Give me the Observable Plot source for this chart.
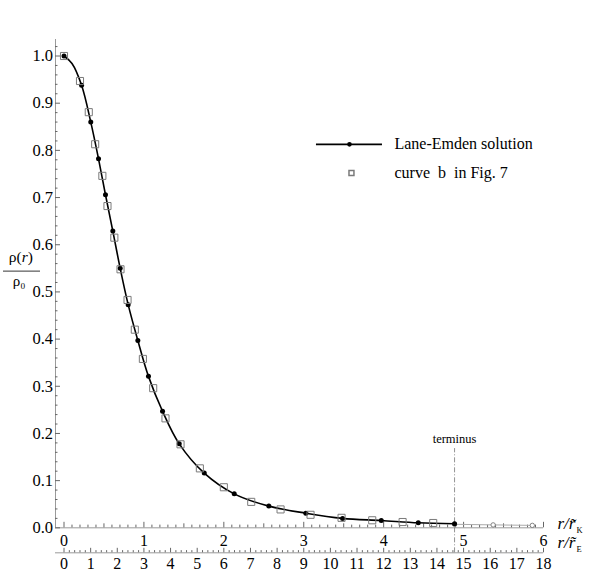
<!DOCTYPE html>
<html><head><meta charset="utf-8">
<script src="https://cdn.jsdelivr.net/npm/d3@7"></script>
<script src="https://cdn.jsdelivr.net/npm/@observablehq/plot@0.6"></script>
<style>body{margin:0;background:#fff} svg text{white-space:pre; font-family:"Liberation Serif", serif}</style>
</head><body><div id="chart"></div>
<script>
// Lane-Emden solution (dots), r in units of r~_K
const leX = [0, 0.22, 0.335, 0.432, 0.519, 0.611, 0.703, 0.803, 0.924, 1.057, 1.233, 1.442, 1.755, 2.13, 2.563, 3.026, 3.486, 3.97, 4.433, 4.887];
const leY = [1.0, 0.938, 0.860, 0.782, 0.706, 0.629, 0.550, 0.473, 0.397, 0.321, 0.247, 0.178, 0.116, 0.072, 0.046, 0.031, 0.020, 0.0155, 0.0106, 0.0085];
const curveX = [0.1];
const curveY = [0.984];
// curve b in Fig. 7 (squares)
const sqX = [0, 0.2, 0.31, 0.39, 0.48, 0.544, 0.63, 0.707, 0.795, 0.886, 0.987, 1.116, 1.27, 1.458, 1.7, 2.0, 2.343, 2.71, 3.085, 3.473, 3.857, 4.237, 4.62];
const sqY = [1.0, 0.947, 0.881, 0.813, 0.746, 0.682, 0.615, 0.548, 0.483, 0.420, 0.358, 0.296, 0.232, 0.177, 0.126, 0.086, 0.055, 0.039, 0.0276, 0.0212, 0.016, 0.0123, 0.0102];
// continuation beyond the terminus (grey)
const tailX = [4.887, 5.37, 5.86];
const tailY = [0.0075, 0.0062, 0.0052];
const terminusX = 4.887;
// tick labels
const xTickLabels = ["0", "1", "2", "3", "4", "5", "6"];
const eTickLabels = ["0","1","2","3","4","5","6","7","8","9","10","11","12","13","14","15","16","17","18"];
const yTickLabels = ["0.0","0.1","0.2","0.3","0.4","0.5","0.6","0.7","0.8","0.9","1.0"];
const legendLabels = ["Lane-Emden solution", "curve  b  in Fig. 7"];

const X0 = -0.1064, X1 = 6, Y0 = -0.1, Y1 = 1.035;
const kx = 79.92, ky = 471.6;
const E_AXIS = -0.053;
const FONT = "Liberation Serif";

const le = leX.map((x, i) => ({x, y: leY[i]}));
const leLine = le.concat(curveX.map((x, i) => ({x, y: curveY[i]}))).sort((a, b) => a.x - b.x);
const sq = sqX.map((x, i) => ({x, y: sqY[i]}));
const tail = tailX.map((x, i) => ({x, y: tailY[i]}));

const topTicks = d3.range(0, 61).map(i => ({x: i / 10, len: i % 10 === 0 ? 5.5 : i % 5 === 0 ? 4 : 2.7}));
const eTicks = d3.range(0, 91).map(i => ({x: i / 15, len: i % 5 === 0 ? 4.5 : 2.2}));
const yTicks = d3.range(0, 52).map(i => ({y: i / 50, len: i % 5 === 0 ? 5 : 2.5}));

const tickGrey = "#666", axisGrey = "#9a9a9a";
const T = {fontFamily: FONT};

const plot = Plot.plot({
  width: 598, height: 580,
  marginLeft: 55, marginRight: 55, marginTop: 39, marginBottom: 5.5,
  x: {domain: [X0, X1], axis: null},
  y: {domain: [Y0, Y1], axis: null},
  style: {fontFamily: FONT, fontSize: "16px", background: "#fff", color: "#000"},
  marks: [
    // axis lines
    Plot.ruleY([0], {x1: X0, x2: X1, stroke: axisGrey}),
    Plot.ruleY([E_AXIS], {x1: X0, x2: X1, stroke: axisGrey}),
    Plot.ruleX([X0], {y1: 0, y2: Y1, stroke: axisGrey}),
    // ticks
    Plot.ruleX(topTicks, {x: "x", y1: 0, y2: d => d.len / ky, stroke: tickGrey}),
    Plot.ruleX(eTicks, {x: "x", y1: E_AXIS, y2: d => E_AXIS + d.len / ky, stroke: tickGrey}),
    Plot.ruleY(yTicks, {y: "y", x1: X0, x2: d => X0 + d.len / kx, stroke: tickGrey}),
    // tick labels
    Plot.text(xTickLabels, {...T, x: (d, i) => i, y: -0.027, text: d => d, fontSize: 16}),
    Plot.text(eTickLabels, {...T, x: (d, i) => i / 3, y: -0.0765, text: d => d, fontSize: 16}),
    Plot.text(yTickLabels, {...T, x: X0 - 2.5 / kx, y: (d, i) => i / 10, text: d => d, textAnchor: "end", fontSize: 16.5}),
    // axis titles
    Plot.text(["r/r\u0303"], {...T, x: 6.175, y: 0.0085, text: d => d, textAnchor: "start", fontStyle: "italic", fontSize: 17}),
    Plot.text(["r/r\u0303"], {...T, x: 6.175, y: -0.031, text: d => d, textAnchor: "start", fontStyle: "italic", fontSize: 17}),
    Plot.text(["ρ(r)"], {...T, x: -0.54, y: 0.5732, text: d => d, fontSize: 15.5}),
    Plot.ruleY([0.5441], {x1: -0.757, x2: -0.294, stroke: "#000", strokeWidth: 0.8}),
    Plot.text(["ρ₀"], {...T, x: -0.563, y: 0.5223, text: d => d, fontSize: 15}),
    // terminus
    Plot.ruleX([terminusX], {y1: E_AXIS, y2: 0.168, stroke: "#777", strokeWidth: 0.8, strokeDasharray: "5,2,1,2"}),
    Plot.text(["terminus"], {...T, x: terminusX, y: 0.1876, text: d => d, fontSize: 12.5}),
    // continuation
    Plot.line(tail, {x: "x", y: "y", stroke: "#aaa", strokeWidth: 1}),
    Plot.dot(tail, {x: "x", y: "y", r: 2.2, stroke: "#777", fill: "#fff", strokeWidth: 0.9}),
    // Lane-Emden line and dots
    Plot.line(leLine, {x: "x", y: "y", stroke: "#000", strokeWidth: 1.6, curve: "catmull-rom"}),
    Plot.dot(le, {x: "x", y: "y", r: 2.5, fill: "#000"}),
    // curve b squares
    Plot.dot(sq, {x: "x", y: "y", symbol: "square", r: 4, stroke: "#7a7a7a", fill: "none", strokeWidth: 1}),
    // legend
    Plot.ruleY([0.8128], {x1: 3.159, x2: 3.985, stroke: "#000", strokeWidth: 1.6}),
    Plot.dot([0], {x: 3.572, y: 0.8128, r: 2.3, fill: "#000"}),
    Plot.dot([0], {x: 3.597, y: 0.7519, symbol: "square", r: 2.8, stroke: "#7a7a7a", fill: "none"}),
    Plot.text([legendLabels[0]], {...T, x: 4.135, y: 0.8128, text: d => d, textAnchor: "start", fontSize: 16}),
    Plot.text([legendLabels[1]], {...T, x: 4.135, y: 0.7519, text: d => d, textAnchor: "start", fontSize: 16})
  ]
});

const ns = "http://www.w3.org/2000/svg";
const titleSubs = ["K", "E"];
let sub = 0;
plot.querySelectorAll("text").forEach(t => {
  if (t.textContent === "ρ(r)") {
    t.textContent = "";
    [["ρ(", "normal"], ["r", "italic"], [")", "normal"]].forEach(([s, st]) => {
      const ts = document.createElementNS(ns, "tspan");
      ts.textContent = s;
      ts.setAttribute("font-style", st);
      t.appendChild(ts);
    });
  } else if (t.textContent === "r/r\u0303") {
    const ts = document.createElementNS(ns, "tspan");
    ts.textContent = titleSubs[sub++];
    ts.setAttribute("font-style", "normal");
    ts.setAttribute("font-size", "8.5");
    ts.setAttribute("dy", "4");
    ts.setAttribute("dx", "1");
    t.appendChild(ts);
  }
});

document.getElementById("chart").appendChild(plot);
</script>
</body></html>
